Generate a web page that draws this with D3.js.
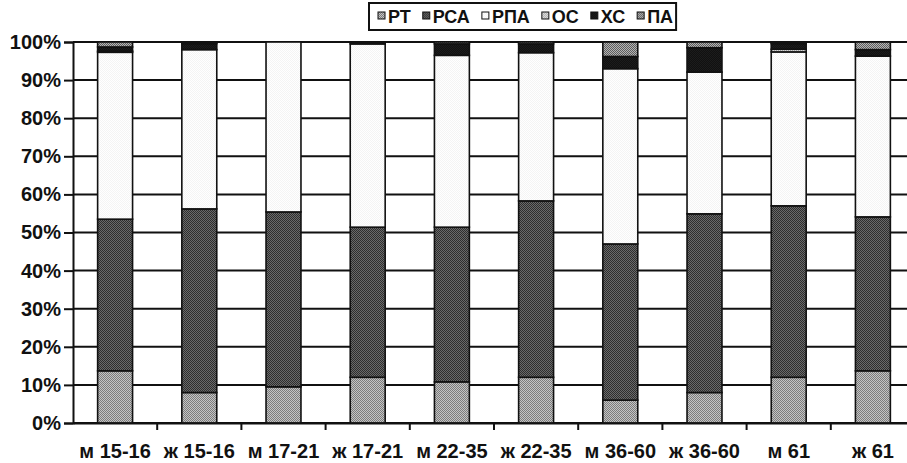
<!DOCTYPE html>
<html>
<head>
<meta charset="utf-8">
<script src="https://cdn.jsdelivr.net/npm/d3@7"></script>
<style>
  body { margin: 0; background: #fff; }
  svg text { font-family: "Liberation Sans", Arial, sans-serif; font-weight: bold; fill: #111; }
</style>
</head>
<body>
<div id="chart"></div>
<script>
const categories = ["м 15-16", "ж 15-16", "м 17-21", "ж 17-21", "м 22-35", "ж 22-35", "м 36-60", "ж 36-60", "м 61", "ж 61"];
const seriesNames = ["РТ", "РСА", "РПА", "ОС", "ХС", "ПА"];
const rt  = [13.7, 8.0, 9.5, 12.0, 10.8, 12.0, 6.0, 8.0, 12.0, 13.7];
const rsa = [39.8, 48.2, 45.9, 39.4, 40.6, 46.3, 41.0, 46.9, 45.0, 40.4];
const rpa = [43.8, 41.8, 44.6, 48.1, 45.1, 38.9, 46.0, 37.2, 40.4, 42.2];
const os  = [0.3, 0, 0, 0, 0, 0, 0, 0, 0.7, 0];
const xs  = [1.1, 1.6, 0, 0.5, 3.0, 2.3, 3.2, 6.4, 1.5, 1.7];
const pa  = [1.3, 0.4, 0, 0, 0.5, 0.5, 3.8, 1.5, 0.4, 2.0];
const yTicks = [0, 0.1, 0.2, 0.3, 0.4, 0.5, 0.6, 0.7, 0.8, 0.9, 1];

const seriesValues = [rt, rsa, rpa, os, xs, pa];
const table = categories.map((c, i) => {
  const row = { cat: c };
  seriesNames.forEach((s, j) => row[s] = seriesValues[j][i]);
  return row;
});

const width = 907, height = 463;
const margin = { top: 42, right: -8, bottom: 40, left: 73 };

const svg = d3.select("#chart").append("svg")
  .attr("width", width)
  .attr("height", height);

// two-tone checker fills to mimic the scanned halftone
const defs = svg.append("defs");
const fills = [
  { id: "p-rt",  a: "#c4c4c4", b: "#7c7c7c" },
  { id: "p-rsa", a: "#6a6a6a", b: "#2e2e2e" },
  { id: "p-rpa", a: "#ffffff", b: "#f4f4f4" },
  { id: "p-os",  a: "#e4e4e4", b: "#aaaaaa" },
  { id: "p-xs",  a: "#111111", b: "#1c1c1c" },
  { id: "p-pa",  a: "#b4b4b4", b: "#5e5e5e" }
];
fills.forEach(f => {
  const p = defs.append("pattern")
    .attr("id", f.id)
    .attr("width", 2).attr("height", 2)
    .attr("patternUnits", "userSpaceOnUse");
  p.append("rect").attr("width", 2).attr("height", 2).attr("fill", f.a);
  p.append("rect").attr("width", 1).attr("height", 1).attr("fill", f.b);
  p.append("rect").attr("x", 1).attr("y", 1).attr("width", 1).attr("height", 1).attr("fill", f.b);
});

const color = d3.scaleOrdinal()
  .domain(seriesNames)
  .range(fills.map(f => `url(#${f.id})`));

const x = d3.scaleBand()
  .domain(categories)
  .range([margin.left, width - margin.right])
  .padding(0);

const y = d3.scaleLinear()
  .domain([0, 1])
  .range([height - margin.bottom - 0, margin.top]);

const barW = x.bandwidth() * 0.415;

// grid lines
svg.append("g")
  .selectAll("line")
  .data(yTicks)
  .enter()
  .append("line")
  .attr("x1", margin.left)
  .attr("x2", width - margin.right)
  .attr("y1", d => y(d))
  .attr("y2", d => y(d))
  .attr("stroke", "#111")
  .attr("stroke-width", 2);

const stack = d3.stack()
  .keys(seriesNames)
  .offset(d3.stackOffsetExpand);

const layers = svg.append("g")
  .selectAll("g")
  .data(stack(table))
  .enter()
  .append("g")
  .attr("fill", d => color(d.key));

layers.selectAll("rect")
  .data(d => d.filter(s => s[1] - s[0] > 0))
  .enter()
  .append("rect")
  .attr("x", d => x(d.data.cat) + (x.bandwidth() - barW) / 2)
  .attr("y", d => y(d[1]))
  .attr("width", barW)
  .attr("height", d => y(d[0]) - y(d[1]))
  .attr("stroke", "#111")
  .attr("stroke-width", 1.6);

// y axis
const yAxis = svg.append("g")
  .attr("transform", `translate(${margin.left},0)`)
  .call(d3.axisLeft(y).tickValues(yTicks).tickFormat(d3.format(".0%")).tickSize(9).tickPadding(3));
yAxis.select(".domain").attr("stroke", "#111").attr("stroke-width", 2);
yAxis.selectAll(".tick line").attr("stroke", "#111").attr("stroke-width", 2);
yAxis.selectAll("text").attr("font-size", 20).attr("font-family", null).attr("fill", "#111");

// x axis
const xAxis = svg.append("g")
  .attr("transform", `translate(0,${y(0)})`)
  .call(d3.axisBottom(x).tickSize(0).tickPadding(21));
xAxis.select(".domain").attr("stroke", "#111").attr("stroke-width", 2);
xAxis.selectAll("text").attr("font-size", 20).attr("font-family", null).attr("fill", "#111");

svg.append("g")
  .selectAll("line")
  .data(categories)
  .enter()
  .append("line")
  .attr("x1", d => x(d) + x.bandwidth())
  .attr("x2", d => x(d) + x.bandwidth())
  .attr("y1", y(0))
  .attr("y2", y(0) + 7)
  .attr("stroke", "#111")
  .attr("stroke-width", 2);

// legend
const legend = svg.append("g").attr("transform", "translate(369,3)");
const legendBox = legend.append("rect")
  .attr("height", 27)
  .attr("fill", "#fff")
  .attr("stroke", "#111")
  .attr("stroke-width", 2);

let lx = 9;
seriesNames.forEach(name => {
  const item = legend.append("g").attr("transform", `translate(${lx},0)`);
  item.append("rect")
    .attr("y", 9)
    .attr("width", 7)
    .attr("height", 7)
    .attr("fill", color(name))
    .attr("stroke", "#111")
    .attr("stroke-width", 1);
  const t = item.append("text")
    .attr("x", 10)
    .attr("y", 19.5)
    .attr("font-size", 18)
    .text(name);
  lx += 10 + t.node().getComputedTextLength() + 12;
});
legendBox.attr("width", lx - 9);
</script>
</body>
</html>
